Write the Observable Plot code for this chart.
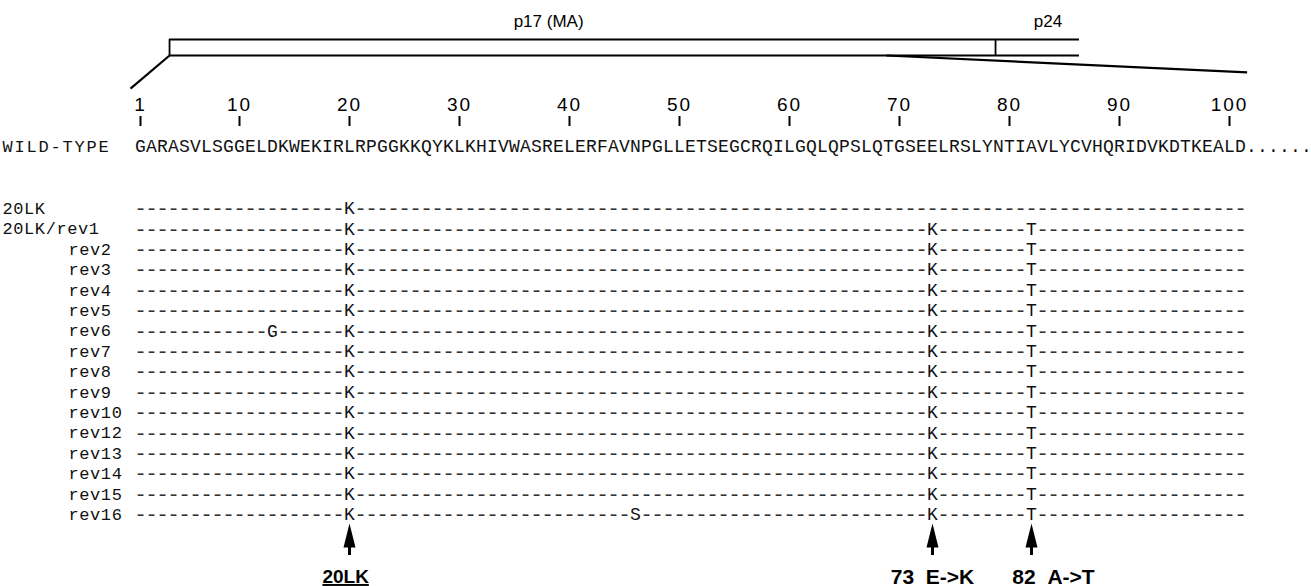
<!DOCTYPE html>
<html><head><meta charset="utf-8">
<script src="https://cdn.jsdelivr.net/npm/d3@7"></script>
<script src="https://cdn.jsdelivr.net/npm/@observablehq/plot@0.6"></script>
<style>html,body{margin:0;padding:0;background:#fff;} #chart{width:1311px;height:586px;overflow:hidden}</style>
</head><body><div id="chart"></div>
<script>
// ---------------- data ----------------
const wildType = "GARASVLSGGELDKWEKIRLRPGGKKQYKLKHIVWASRELERFAVNPGLLETSEGCRQILGQLQPSLQTGSEELRSLYNTIAVLYCVHQRIDVKDTKEALD".split("");
const trailingDots = [".", ".", ".", ".", ".", "."];
const positionTicks = [1, 10, 20, 30, 40, 50, 60, 70, 80, 90, 100];
const variants = ["20LK", "20LK/rev1", "rev2", "rev3", "rev4", "rev5", "rev6", "rev7", "rev8", "rev9", "rev10", "rev12", "rev13", "rev14", "rev15", "rev16"];
const sharedMutations = [[20, "K"], [73, "K"], [82, "T"]];
const extraMutations = {"rev6": [[13, "G"]], "rev16": [[46, "S"]]};
const geneSegments = [
  {name: "p17 (MA)", start: 3.64, end: 78.73, labelAt: 38.1},
  {name: "p24", start: 78.73, end: 86.36, labelAt: 83.5}
];
const annotations = [
  {pos: 20, label: "20LK"},
  {pos: 73, label: "73\u00a0\u00a0E->K"},
  {pos: 82, label: "82\u00a0\u00a0A->T"}
];

// ---------------- layout (row units / residue units) ----------------
const L = {pLabel: -9.17, boxTop: -8.28, boxBot: -7.5, tickLabel: -5.1, tickTop: -4.51, tickBot: -4.02,
           wt: -3.04, head: 16.03, shaftTop: 16.4, shaftBot: 17.01, annot: 18.06};
const labelX = -11.55, indentX = -5.55;
const annotShift = [-0.35, 0, 2];
const zoomLines = [
  {x1: geneSegments[0].start, y1: L.boxBot, x2: 0.09, y2: -5.88},
  {x1: 68.8, y1: L.boxBot, x2: 101.6, y2: -6.67}
];

// ---------------- derived tables ----------------
const wtCells = wildType.map((aa, i) => ({pos: i + 1, ch: aa}))
  .concat(trailingDots.map((c, i) => ({pos: wildType.length + 1 + i, ch: c})));
const dashCells = [], mutCells = [];
variants.forEach((v, row) => {
  const muts = v === "20LK" ? [[20, "K"]] : sharedMutations.concat(extraMutations[v] || []);
  const m = new Map(muts);
  for (let p = 1; p <= wildType.length; p++) {
    if (m.has(p)) mutCells.push({pos: p, row, ch: m.get(p)});
    else dashCells.push({pos: p, row, ch: "-"});
  }
});

const MONO = "Liberation Mono, Courier New, monospace";
const MONO_LBL = "'Liberation Mono', 'Courier New', monospace";
const SANS = "Liberation Sans, Arial, sans-serif";
const SANS_TICK = "'Liberation Sans', Arial, sans-serif";
const SANS_BOLD = "Liberation Sans, Arial, Helvetica, sans-serif";

const chart = Plot.plot({
  width: 1311, height: 586, margin: 0,
  style: {background: "#fff", color: "#000"},
  x: {domain: [1 - 140 / 11, 1 + (1311 - 140) / 11], range: [0, 1311], axis: null},
  y: {domain: [-208 / 20.4, (586 - 208) / 20.4], range: [0, 586], axis: null},
  marks: [
    Plot.ruleY(geneSegments, {x1: "start", x2: "end", y: L.boxTop, stroke: "#000", strokeWidth: 2}),
    Plot.ruleY(geneSegments, {x1: "start", x2: "end", y: L.boxBot, stroke: "#000", strokeWidth: 2}),
    Plot.ruleX(geneSegments, {x: "start", y1: L.boxTop, y2: L.boxBot, stroke: "#000", strokeWidth: 1.8}),
    Plot.text(geneSegments, {x: "labelAt", y: L.pLabel, text: "name", fontFamily: SANS, fontSize: 17, fill: "#000"}),
    Plot.link(zoomLines, {x1: "x1", y1: "y1", x2: "x2", y2: "y2", stroke: "#000", strokeWidth: 2.2}),
    Plot.ruleX(positionTicks, {x: d => d, y1: L.tickTop, y2: L.tickBot, stroke: "#000", strokeWidth: 2}),
    Plot.text(positionTicks, {x: d => d, y: L.tickLabel, text: d => String(d), fontFamily: SANS_TICK, fontSize: 19, fill: "#000"}),
    Plot.text(["WILD-TYPE"], {x: labelX, y: L.wt, text: d => d, textAnchor: "start", fontFamily: MONO_LBL, fontSize: 17, fill: "#111"}),
    Plot.text(wtCells, {x: "pos", y: L.wt, text: "ch", fontFamily: MONO, fontSize: 18, fill: "#111"}),
    Plot.text(variants, {x: d => d.startsWith("rev") ? indentX : labelX, y: (d, i) => i, text: d => d, textAnchor: "start", fontFamily: MONO_LBL, fontSize: 17, fill: "#111"}),
    Plot.text(dashCells, {x: "pos", y: "row", text: "ch", fontFamily: MONO, fontSize: 21, fill: "#333"}),
    Plot.text(mutCells, {x: "pos", y: "row", text: "ch", fontFamily: MONO, fontSize: 18, fill: "#111"}),
    Plot.dot(annotations, {x: "pos", y: L.head, r: 6, fill: "#000", stroke: null,
      symbol: {draw(ctx) { ctx.moveTo(0, -12); ctx.lineTo(6, 12); ctx.lineTo(-6, 12); ctx.closePath(); }}}),
    Plot.ruleX(annotations, {x: "pos", y1: L.shaftTop, y2: L.shaftBot, stroke: "#000", strokeWidth: 3}),
    Plot.text(annotations, {x: (d, i) => d.pos + annotShift[i], y: L.annot, text: "label", fontFamily: SANS_BOLD, fontWeight: "bold",
      fontSize: d => d.pos === 20 ? 19 : 21, fill: "#000"})
  ]
});
document.getElementById("chart").appendChild(chart);
const svg = d3.select(chart);
svg.selectAll(`g[font-family="${MONO_LBL}"] text`)
  .style("letter-spacing", function() { return this.textContent === "WILD-TYPE" ? "1.8px" : "0.6px"; });
svg.selectAll(`g[font-family="${SANS_TICK}"] text`).style("letter-spacing", "2px");
svg.selectAll(`g[font-family="${SANS_BOLD}"] text`).filter(function() { return this.textContent === "20LK"; })
  .style("text-decoration", "underline");
</script>
</body></html>
